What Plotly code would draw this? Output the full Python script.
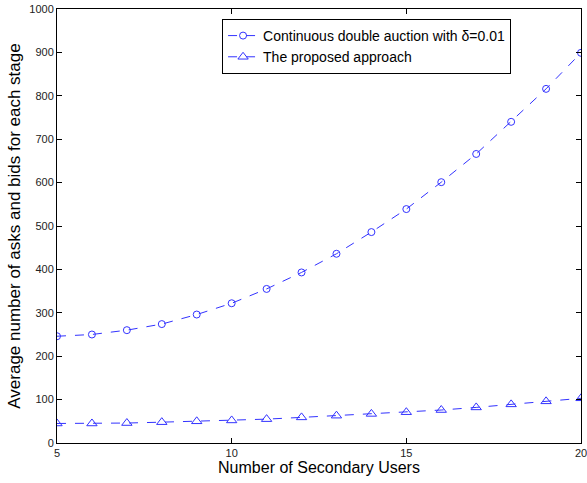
import plotly.graph_objects as go

users = list(range(5, 21))
cda = [246, 250, 260, 274, 296, 322, 355, 393, 436, 486, 539, 601, 666, 740, 816, 899]
proposed = [45, 45, 46, 48, 50, 52, 55, 59, 63, 67, 71, 76, 82, 89, 96, 103]

x_ticks = [5, 10, 15, 20]
y_ticks = list(range(0, 1001, 100))

blue = "rgb(50,50,255)"

fig = go.Figure()
fig.add_trace(go.Scatter(
    x=users, y=cda, mode="lines+markers",
    name="Continuous double auction with δ=0.01",
    line=dict(color=blue, width=1, dash="dash"),
    marker=dict(symbol="circle-open", size=7, color=blue, line=dict(width=1)),
))
fig.add_trace(go.Scatter(
    x=users, y=proposed, mode="lines+markers",
    name="The proposed approach",
    line=dict(color=blue, width=1, dash="dash"),
    marker=dict(symbol="triangle-up-open", size=9, color=blue, line=dict(width=1)),
))

axis_common = dict(
    showgrid=False, zeroline=False, showline=True, linecolor="black", linewidth=1,
    mirror="ticks", ticks="inside", ticklen=5, tickcolor="black", automargin=False,
    ticklabeloverflow="allow",
    tickfont=dict(family="Arial, Liberation Sans", size=11, color="#222"),
)

fig.update_layout(
    width=587, height=483,
    margin=dict(l=57, r=6, t=9, b=40),
    paper_bgcolor="white", plot_bgcolor="white",
    font=dict(family="Arial, Liberation Sans", color="black"),
    showlegend=True,
    legend=dict(
        x=0.315, y=0.977, xanchor="left", yanchor="top",
        bordercolor="black", borderwidth=1, bgcolor="white",
        font=dict(size=14, family="Arial, Liberation Sans"),
        tracegroupgap=0, itemwidth=30,
    ),
    xaxis=dict(range=[5, 20], tickvals=x_ticks,
               title=dict(text="Number of Secondary Users", font=dict(size=16), standoff=2),
               **axis_common),
    yaxis=dict(range=[0, 1000], tickvals=y_ticks,
               title=dict(text="Average number of asks and bids for each stage", font=dict(size=17), standoff=4),
               **axis_common),
)

fig.write_html(
    "out.html",
    config={"displayModeBar": False},
    post_script="document.body.style.margin='0';document.body.style.overflow='hidden';",
)
